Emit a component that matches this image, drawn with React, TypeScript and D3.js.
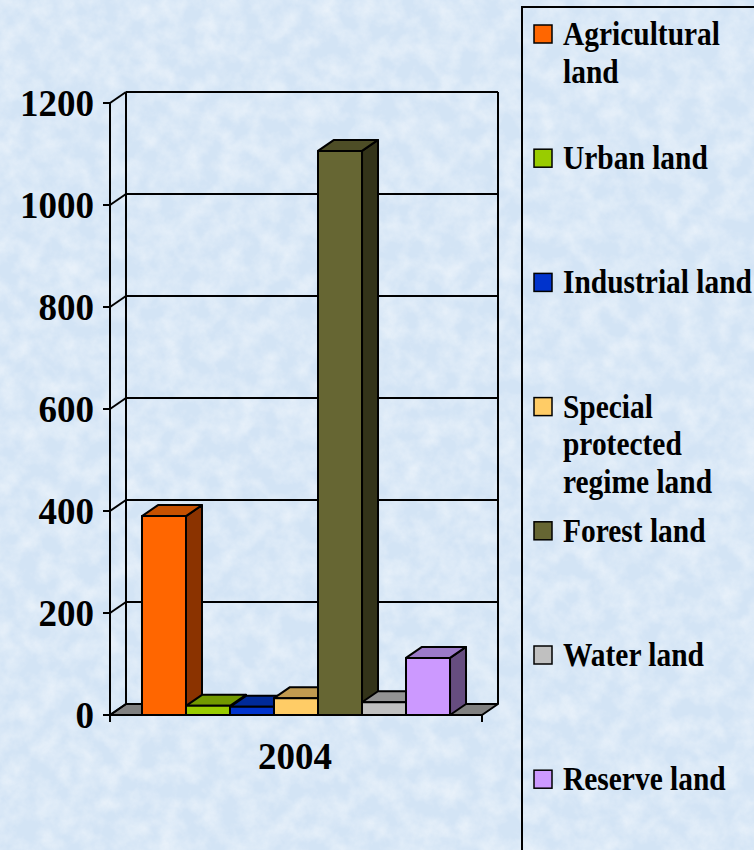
import React from 'react';
import * as d3 from 'd3';

// data
const categories = ['2004'];
const seriesNames = [
  'Agricultural land',
  'Urban land',
  'Industrial land',
  'Special protected regime land',
  'Forest land',
  'Water land',
  'Reserve land',
];
const values = [390, 18, 16, 33, 1106, 25, 112];
const legendLines = [
  ['Agricultural', 'land'],
  ['Urban land'],
  ['Industrial land'],
  ['Special', 'protected', 'regime land'],
  ['Forest land'],
  ['Water land'],
  ['Reserve land'],
];
const yTicks = [0, 200, 400, 600, 800, 1000, 1200];

// face colours: front / top / side
const frontColors = ['#FF6600', '#99CC00', '#0033CC', '#FFCC66', '#666633', '#C0C0C0', '#CC99FF'];
const topColors = ['#C65100', '#729900', '#002A99', '#C09A50', '#4D4D26', '#939393', '#9C7AC9'];
const sideColors = ['#8B3300', '#4C6600', '#001A66', '#806640', '#333319', '#626262', '#664D80'];

const W = 754;
const H = 850;
const DX = 16; // depth offset
const DY = -11;
const FONT = '"Liberation Serif", "Times New Roman", serif';

const App: React.FC = () => {
  const x0 = 110;
  const x1 = 482;
  const y = d3.scaleLinear().domain([0, 1200]).range([715, 103]);
  const xCat = d3.scaleBand().domain(categories).range([x0, x1]);
  const xSeries = d3
    .scaleBand<string>()
    .domain(seriesNames)
    .range([xCat('2004')!, xCat('2004')! + xCat.bandwidth()])
    .paddingInner(0)
    .paddingOuter(0.727);

  const pts = (p: number[][]) => p.map(d => d.join(',')).join(' ');
  const y0 = y(0);

  return (
    <svg
      width={W}
      height={H}
      style={{ position: 'absolute', left: 0, top: 0, display: 'block' }}
    >
      <defs>
        <filter id="tex" x="0" y="0" width="100%" height="100%">
          <feTurbulence type="fractalNoise" baseFrequency="0.05" numOctaves={4} seed={7} />
          <feColorMatrix
            type="matrix"
            values="0 0 0 0 1  0 0 0 0 1  0 0 0 0 1  1.4 0 0 0 -0.45"
          />
        </filter>
      </defs>
      <rect width={W} height={H} fill="#d3e4f5" />
      <rect width={W} height={H} filter="url(#tex)" opacity={0.6} />

      {/* floor */}
      <polygon
        points={pts([[x0, y0], [x1, y0], [x1 + DX, y0 + DY], [x0 + DX, y0 + DY]])}
        fill="#808080"
        stroke="#000"
        strokeWidth={2}
        strokeLinejoin="round"
      />

      {/* walls and gridlines */}
      <g stroke="#000" strokeWidth={2} fill="none">
        {yTicks.map(t => (
          <g key={t}>
            <line x1={x0 + DX} x2={x1 + DX} y1={y(t) + DY} y2={y(t) + DY} />
            <line x1={x0} x2={x0 + DX} y1={y(t)} y2={y(t) + DY} />
            <line x1={x0 - 7} x2={x0} y1={y(t)} y2={y(t)} />
          </g>
        ))}
        <line x1={x0 + DX} x2={x0 + DX} y1={y(0) + DY} y2={y(1200) + DY} />
        <line x1={x1 + DX} x2={x1 + DX} y1={y(0) + DY} y2={y(1200) + DY} />
        <line x1={x0} x2={x0} y1={y(0) + 7} y2={y(1200)} />
        <line x1={x1} x2={x1} y1={y(0)} y2={y(0) + 7} />
      </g>

      {/* bars */}
      <g stroke="#000" strokeWidth={2} strokeLinejoin="round">
        {seriesNames.map((s, i) => {
          const bx = xSeries(s)!;
          const bw = xSeries.bandwidth();
          const top = y(values[i]);
          return (
            <g key={s}>
              <polygon
                points={pts([[bx + bw, y0], [bx + bw + DX, y0 + DY], [bx + bw + DX, top + DY], [bx + bw, top]])}
                fill={sideColors[i]}
              />
              <polygon
                points={pts([[bx, top], [bx + bw, top], [bx + bw + DX, top + DY], [bx + DX, top + DY]])}
                fill={topColors[i]}
              />
              <rect x={bx} y={top} width={bw} height={y0 - top} fill={frontColors[i]} />
            </g>
          );
        })}
      </g>

      {/* y tick labels */}
      <g fontFamily={FONT} fontWeight="bold" fontSize={37} fill="#000" textAnchor="end">
        {yTicks.map(t => (
          <text key={t} x={94} y={y(t) + 13}>
            {t}
          </text>
        ))}
      </g>
      <text
        x={xCat('2004')! + xCat.bandwidth() / 2 - 1}
        y={769}
        fontFamily={FONT}
        fontWeight="bold"
        fontSize={37}
        textAnchor="middle"
      >
        {categories[0]}
      </text>

      {/* legend */}
      <rect x={522} y={7} width={260} height={880} fill="none" stroke="#000" strokeWidth={2} />
      {legendLines.map((lines, i) => {
        const cy = 34 + i * 124.2;
        return (
          <g key={i}>
            <rect x={534} y={cy - 9} width={18} height={18} fill={frontColors[i]} stroke="#000" strokeWidth={1.5} />
            {lines.map((ln, j) => (
              <text
                key={j}
                transform={`translate(563,${cy + 11 + j * 37.5}) scale(0.92,1.02)`}
                fontFamily={FONT}
                fontWeight="bold"
                fontSize={32}
              >
                {ln}
              </text>
            ))}
          </g>
        );
      })}
    </svg>
  );
};

export default App;
